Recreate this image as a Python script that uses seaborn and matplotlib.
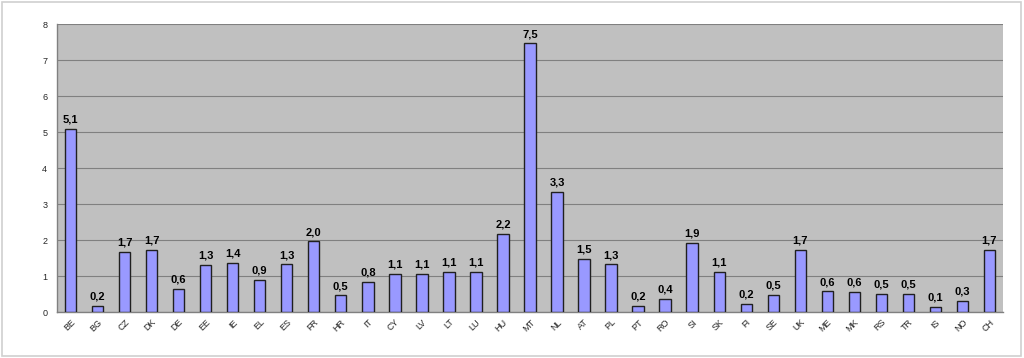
import matplotlib
matplotlib.use("Agg")
import matplotlib.pyplot as plt
import seaborn as sns
import pandas as pd
import numpy as np
from matplotlib.patches import Rectangle

countries = ["BE", "BG", "CZ", "DK", "DE", "EE", "IE", "EL", "ES", "FR", "HR", "IT", "CY", "LV",
             "LT", "LU", "HU", "MT", "NL", "AT", "PL", "PT", "RO", "SI", "SK", "FI", "SE", "UK",
             "ME", "MK", "RS", "TR", "IS", "NO", "CH"]
values = [5.08, 0.17, 1.66, 1.72, 0.64, 1.31, 1.37, 0.89, 1.32, 1.96, 0.46, 0.84, 1.06, 1.06,
          1.11, 1.11, 2.17, 7.46, 3.33, 1.48, 1.32, 0.16, 0.36, 1.92, 1.12, 0.23, 0.48, 1.72,
          0.57, 0.56, 0.51, 0.50, 0.13, 0.30, 1.73]
y_ticks = [0, 1, 2, 3, 4, 5, 6, 7, 8]

df = pd.DataFrame({"country": countries, "value": values})

sns.set_theme(style="white")
plt.rcParams["font.family"] = ["Liberation Sans", "DejaVu Sans"]

fig = plt.figure(figsize=(10.24, 3.58), dpi=100)
ax = fig.add_axes([57 / 1024, 1 - 312 / 358, (1003 - 57) / 1024, (312 - 24) / 358])
ax.set_facecolor("#c0c0c0")

sns.barplot(data=df, x="country", y="value", color="#9999ff", saturation=1, width=0.42,
            edgecolor="#202020", linewidth=1.0, ax=ax, zorder=3)

for i, v in enumerate(values):
    ax.text(i, v + 0.12, f"{v:.1f}".replace(".", ","), ha="center", va="bottom",
            fontsize=8, fontweight="bold", color="black", zorder=4)

ax.set_xlim(-0.5, len(countries) - 0.5)
ax.set_ylim(0, 8)
ax.set_yticks(y_ticks)
ax.set_yticklabels([str(t) for t in y_ticks], fontsize=6.5)
ax.yaxis.grid(True, color="#808080", linewidth=0.8, zorder=0)
ax.set_axisbelow(True)
ax.set_xlabel("")
ax.set_ylabel("")

ax.set_xticks(range(len(countries)))
ax.set_xticklabels(countries, rotation=45, ha="right", rotation_mode="anchor", fontsize=6.5)
ax.set_xticks(np.arange(-0.5, len(countries), 1), minor=True)
ax.tick_params(axis="x", which="major", length=0, pad=4)
ax.tick_params(axis="x", which="minor", length=3, color="#808080", width=0.8)
ax.tick_params(axis="y", length=3, color="#808080", width=0.8, pad=4)

for s in ["left", "bottom"]:
    ax.spines[s].set_color("#808080")
    ax.spines[s].set_linewidth(1.0)
for s in ["top", "right"]:
    ax.spines[s].set_visible(False)

fig.patches.append(Rectangle((0.002, 0.005), 0.995, 0.99, transform=fig.transFigure,
                             fill=False, edgecolor="#d0d0d0", linewidth=1.2))

fig.savefig("out.png", dpi=100)
